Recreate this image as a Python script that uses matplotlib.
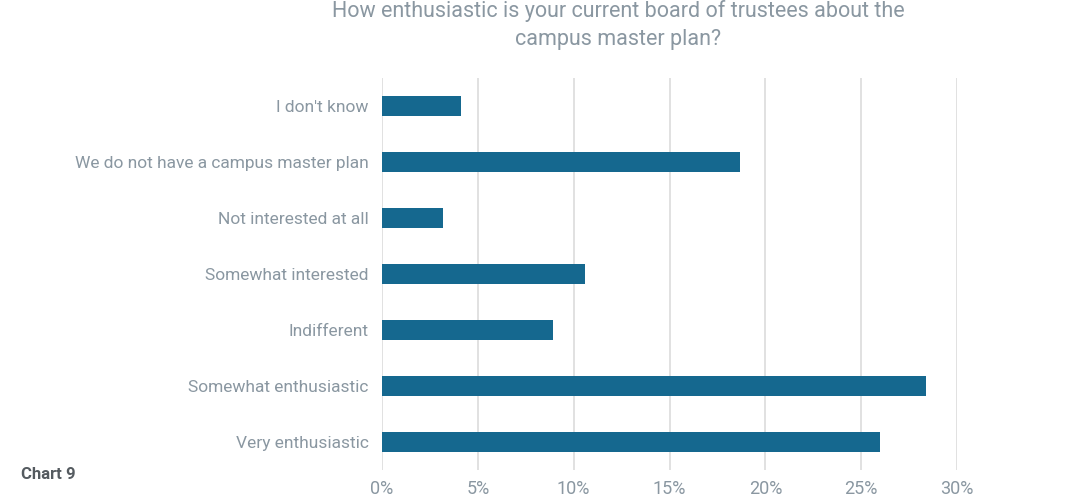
import matplotlib.pyplot as plt
from matplotlib.ticker import FuncFormatter

# Dane z wykresu (od dołu do góry)
kategorie = ['Very enthusiastic', 'Somewhat enthusiastic', 'Indifferent',
             'Somewhat interested', 'Not interested at all',
             'We do not have a campus master plan', "I don't know"]
procenty = [26.0, 28.4, 8.9, 10.6, 3.2, 18.7, 4.1]
x_ticki = [0, 5, 10, 15, 20, 25, 30]

kolor_slupka = '#15688f'
kolor_tekstu = '#8a97a1'
rodzina = ['Roboto', 'DejaVu Sans']

plt.rcParams['font.family'] = rodzina

fig = plt.figure(figsize=(10.87, 4.98), dpi=100)
ax = fig.add_axes([382 / 1087, 1 - 470 / 498, (957 - 382) / 1087, (470 - 78) / 498])

pozycje = list(range(len(kategorie)))
ax.barh(pozycje, procenty, height=0.34, color=kolor_slupka, zorder=3)

ax.set_xlim(0, 30)
ax.set_ylim(-0.5, len(kategorie) - 0.5)
ax.set_xticks(x_ticki)
ax.xaxis.set_major_formatter(FuncFormatter(lambda v, p: '%d%%' % v))
ax.set_yticks(pozycje)
ax.set_yticklabels(kategorie)
ax.grid(axis='x', color='#dcdcdc', linewidth=1.2, zorder=0)
ax.tick_params(axis='both', length=0, labelsize=12.5, labelcolor=kolor_tekstu)
ax.tick_params(axis='x', labelsize=13)
ax.tick_params(axis='y', pad=9.5)
ax.tick_params(axis='x', pad=7.5)
for s in ax.spines.values():
    s.set_visible(False)

fig.text(618 / 1087, 1 - 25 / 498,
         'How enthusiastic is your current board of trustees about the\ncampus master plan?',
         ha='center', va='center', fontsize=15.5, color=kolor_tekstu, linespacing=1.4)
fig.text(21 / 1087, 1 - 474 / 498, 'Chart 9', ha='left', va='center',
         fontsize=12, fontweight='bold', color='#555b60')

fig.savefig('out.png', dpi=100)
